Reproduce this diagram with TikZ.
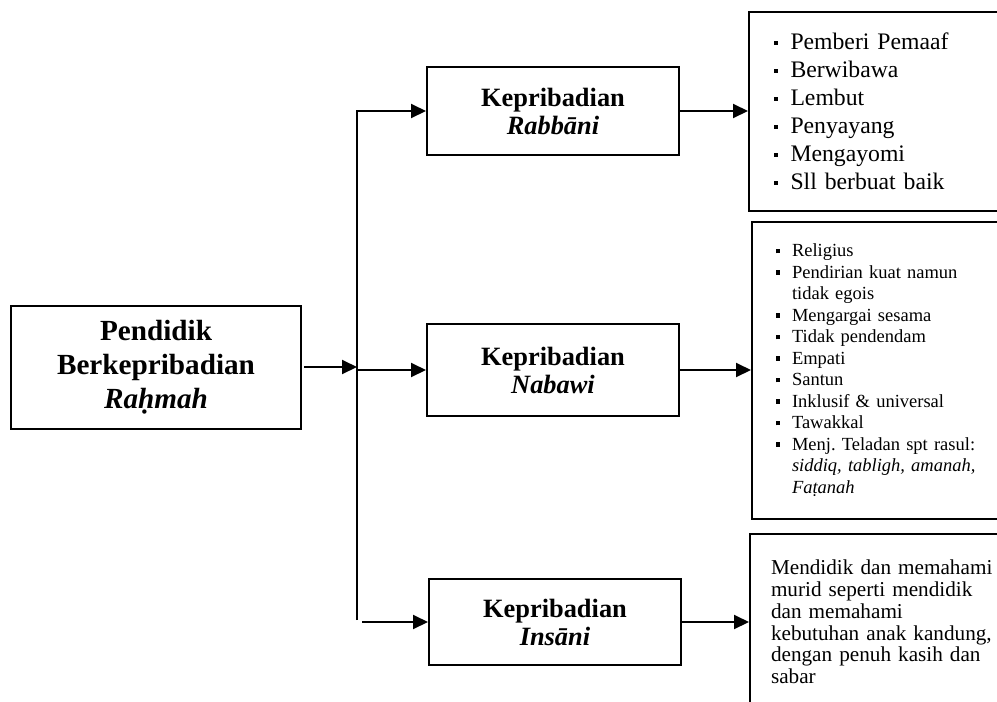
\documentclass[tikz,border=0pt]{standalone}
\usepackage{fontspec}
\setmainfont{Liberation Serif}
\usetikzlibrary{positioning,arrows.meta}
\frenchspacing

\newcommand{\sqb}{\rule[0.18em]{4.4pt}{4.4pt}}
\newcommand{\bitem}[1]{\mbox{\makebox[16.5pt][l]{\sqb}#1}}

\begin{document}
\begin{tikzpicture}[
        x=1pt, y=-1pt,
        teacher/.style={
                rectangle,
                draw=black,
                align=center,
                minimum width=290pt,
                minimum height=123pt,
                font=\fontsize{29.2}{34}\selectfont\bfseries
            },
        kind/.style={
                rectangle,
                draw=black,
                align=center,
                minimum width=252pt,
                minimum height=88pt,
                font=\fontsize{26.4}{28}\selectfont\bfseries
            },
        traits/.style={
                rectangle,
                draw=black,
                align=left,
                minimum width=251pt,
            },
        >={Triangle[length=15pt,width=14pt]},
        line width=2pt
    ]
    \useasboundingbox (0,0) rectangle (997,702);

    \node[teacher] (teacher) at (156,367) {Pendidik\\Berkepribadian\\\textit{Raḥmah}};
    \node[kind] (rabbani) at (553,111) {Kepribadian\\\textit{Rabbāni}};
    \node[kind,minimum height=92pt] (nabawi) at (553,370) {Kepribadian\\\textit{Nabawi}};
    \node[kind,minimum height=86pt] (insani) at (555,622) {Kepribadian\\\textit{Insāni}};

    \node[traits,text width=201pt,minimum height=199pt,font=\fontsize{23.7}{28}\selectfont] (rabbanilist) [right=68pt of rabbani] {
        \bitem{Pemberi Pemaaf}\\
        \bitem{Berwibawa}\\
        \bitem{Lembut}\\
        \bitem{Penyayang}\\
        \bitem{Mengayomi}\\
        \bitem{Sll berbuat baik}};
    \node[traits,text width=204pt,minimum height=297pt,font=\fontsize{18.5}{21.5}\selectfont] (nabawilist) [right=71pt of nabawi] {
        \bitem{Religius}\\
        \bitem{Pendirian kuat namun}\\
        \hspace*{16.5pt}tidak egois\\
        \bitem{Mengargai sesama}\\
        \bitem{Tidak pendendam}\\
        \bitem{Empati}\\
        \bitem{Santun}\\
        \bitem{Inklusif \& universal}\\
        \bitem{Tawakkal}\\
        \bitem{Menj. Teladan spt rasul:}\\
        \hspace*{16.5pt}\textit{siddiq, tabligh, amanah,}\\
        \hspace*{16.5pt}\textit{Faṭanah}};
    \node[traits,text width=209pt,minimum height=176pt,font=\fontsize{21.2}{21.8}\selectfont] (insanilist) [right=67pt of insani] {
        \mbox{Mendidik dan memahami}\\
        \mbox{murid seperti mendidik}\\
        \mbox{dan memahami}\\
        \mbox{kebutuhan anak kandung,}\\
        \mbox{dengan penuh kasih dan}\\
        \mbox{sabar}};

    % trunk of the tree
    \coordinate (fork) at (357,370);
    \coordinate (forkend) at (357,620);

    \draw[->] ([xshift=2pt]teacher.east) -- (teacher.east -| fork);
    \draw[->] (forkend) |- (rabbani.west);
    \draw[->] (fork |- nabawi.west) -- (nabawi.west);
    \draw[->] ([xshift=5pt]forkend |- insani.west) -- (insani.west);

    \draw[->] (rabbani.east) -- (rabbanilist.west);
    \draw[->] (nabawi.east) -- (nabawilist.west);
    \draw[->] (insani.east) -- (insanilist.west);
\end{tikzpicture}
\end{document}
